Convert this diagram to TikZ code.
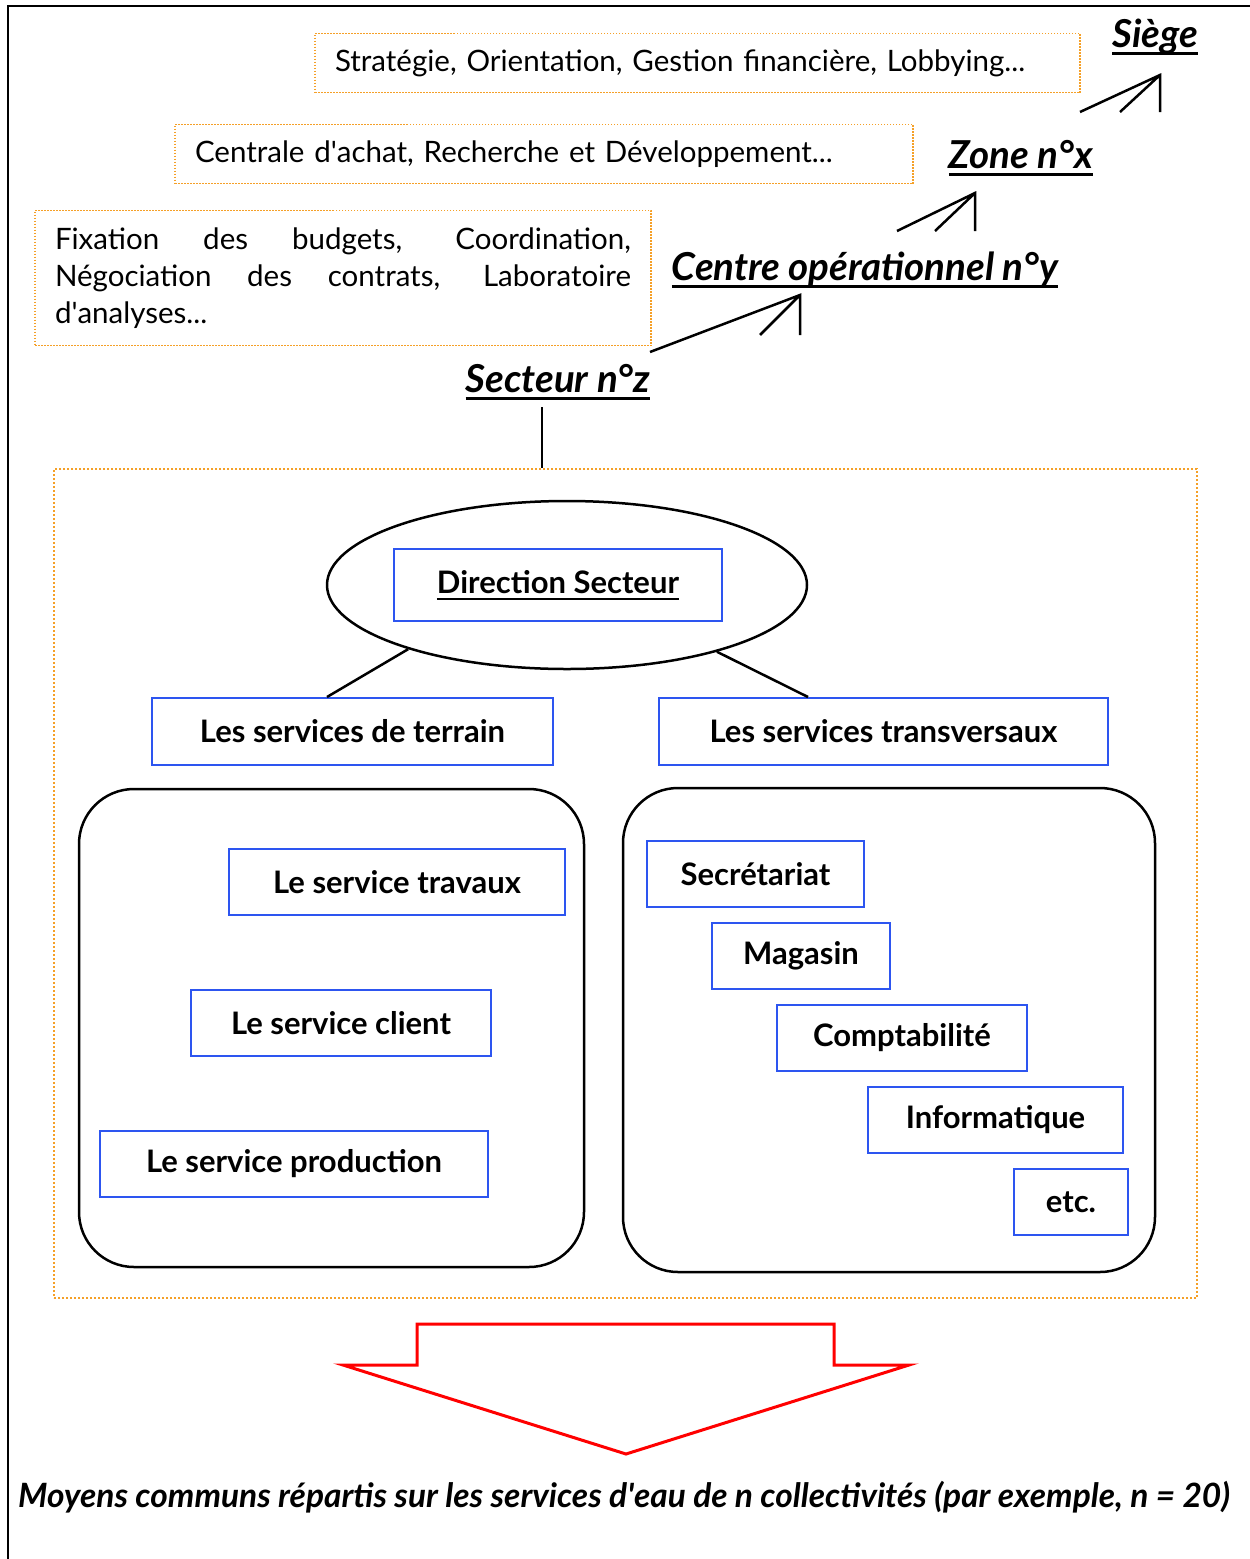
\documentclass[tikz,border=0pt]{standalone}
\usepackage{fontspec}
\setmainfont{Lato}
\usepackage{tikz}
\usetikzlibrary{shapes.geometric, arrows.meta, positioning}
\definecolor{bleu}{RGB}{45,85,240}
\definecolor{orangept}{RGB}{245,160,40}
\newcommand{\souligne}[2]{\setbox0=\hbox{#2}\rlap{\rule[-7pt]{\wd0}{#1}}\box0}
\newcommand{\apos}{\XeTeXglyph\XeTeXcharglyph"27\relax}
\tikzset{
  infobox/.style={draw=orangept, line width=1.5pt, dash pattern=on 1.5pt off 1.5pt,
    font=\fontsize{29.5}{37}\selectfont, align=left, inner xsep=20pt, inner ysep=0pt},
  service/.style={draw=bleu, line width=2.5pt, minimum height=66pt, inner sep=0pt,
    font=\bfseries\fontsize{31}{36}\selectfont},
  niveau/.style={font=\bfseries\itshape\fontsize{38.5}{44}\selectfont, inner sep=0pt},
  trait/.style={line width=2.5pt},
  bloc/.style={draw, line width=2.5pt, rounded corners=55pt},
}

\begin{document}
\begin{tikzpicture}[x=1pt,y=-1pt]
  \useasboundingbox (0,0) rectangle (1250,1559);
  \draw[line width=2pt](1250,6)--(8,6)--(8,1559);
  % les niveaux
  \node[infobox, text width=725pt, minimum height=59pt](strat) at (697.5,63)
    {Stratégie, Orientation, Gestion financière, Lobbying...};
  \node[infobox, text width=698pt, minimum height=59pt](achat) at (544,154)
    {Centrale d\apos achat, Recherche et Développement...};
  \node[infobox, align=justify, text width=576pt, minimum height=135pt](fixation) at (343,278)
    {\makebox[576pt][s]{Fixation des budgets, Coordination,}\\
     \makebox[576pt][s]{Négociation des contrats, Laboratoire}\\
     d\apos analyses...};
  \node[niveau](siege) at (1155,37){\souligne{3pt}{Siège}};
  \node[niveau](zone) at (1021,158){\souligne{3pt}{Zone n°x}};
  \node[niveau](centre) at (865,270){\souligne{3pt}{Centre opérationnel n°y}};
  \node[niveau](secteur) at (558,382){\souligne{3pt}{Secteur n°z}};
  % fleches entre niveaux
  \coordinate(q1) at (1080,112); \coordinate(p1) at (1160,75);
  \coordinate(q2) at (897,231);  \coordinate(p2) at (975,193);
  \coordinate(q3) at (650,352);  \coordinate(p3) at (800,295);
  \draw[trait](q1)--(p1)--++(0,37)(p1)--++(-40,37);
  \draw[trait](q2)--(p2)--++(0,38)(p2)--++(-40,38);
  \draw[trait](q3)--(p3)--++(0,40)(p3)--++(-40,40);
  % le secteur
  \node[draw=orangept, line width=2.5pt, dash pattern=on 2pt off 2pt,
    minimum width=1143pt, minimum height=829pt, inner sep=0pt](cadre) at (625.5,883.5){};
  \coordinate(s0) at (542,407);
  \draw[line width=1.5pt](s0)--(s0|-cadre.north);
  \node[draw, ellipse, line width=2.5pt, minimum width=480pt, minimum height=168pt,
    inner sep=0pt](dirbloc) at (567,585){};
  \node[service, minimum width=328pt, minimum height=72pt](direction) at (558,585)
    {\souligne{2pt}{Direction Secteur}};
  \node[service, minimum width=401pt, minimum height=67pt](terrain) at (352.5,731.5)
    {Les services de terrain};
  \node[service, minimum width=449pt, minimum height=67pt](transv) at (883.5,731.5)
    {Les services transversaux};
  \coordinate(t1) at (327,697); \coordinate(t2) at (808,697);
  \draw[trait](dirbloc.202)--(t1);
  \draw[trait](dirbloc.336)--(t2);
  \draw[bloc](79,789) rectangle (584,1267);
  \draw[bloc](623,788) rectangle (1155,1272);
  % services de terrain
  \node[service, minimum width=336pt](travaux) at (397,882){Le service travaux};
  \node[service, minimum width=300pt](client) at (341,1023){Le service client};
  \node[service, minimum width=388pt](production) at (294,1164){Le service production};
  % services transversaux
  \node[service, minimum width=217pt](secretariat) at (755.5,874){Secrétariat};
  \node[service, minimum width=178pt](magasin) at (801,956){Magasin};
  \node[service, minimum width=250pt](compta) at (902,1038){Comptabilité};
  \node[service, minimum width=255pt](info) at (995.5,1120){Informatique};
  \node[service, minimum width=114pt](etc) at (1071,1202){etc.};
  % grosse fleche
  \draw[red, line width=3pt, line join=miter](417,1324)--(834,1324)--(834,1365)--(909,1365)
    --(626,1454)--(343,1365)--(417,1365)--cycle;
  \node[font=\bfseries\itshape\fontsize{33.5}{38}\selectfont](moyens) at (624,1497)
    {Moyens communs répartis sur les services d\apos eau de n collectivités (par exemple, n = 20)};
\end{tikzpicture}
\end{document}
